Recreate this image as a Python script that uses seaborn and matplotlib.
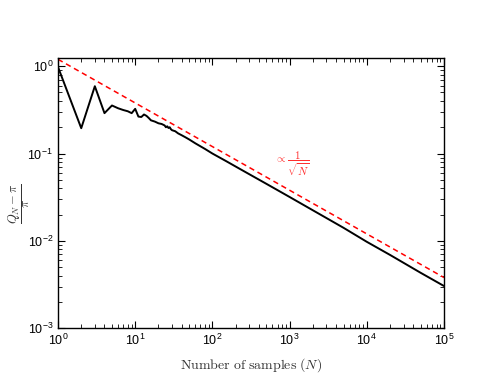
import matplotlib
matplotlib.use("Agg")
import matplotlib.pyplot as plt
import seaborn as sns
import pandas as pd
from matplotlib.ticker import LogLocator, NullFormatter

# Data
n_samples = [1, 2, 3, 4, 5, 6, 7, 8, 9, 10, 11, 12, 13, 14, 15, 16, 18, 20, 22, 24, 25,
             26, 27, 28, 29, 30, 33, 36, 40, 45, 50, 60, 70, 80, 100, 150, 200, 300,
             500, 1000, 2000, 5000, 10000, 20000, 50000, 100000]
rel_error = [0.98, 0.195, 0.59, 0.29, 0.355, 0.33, 0.315, 0.305, 0.29, 0.325, 0.265,
             0.262, 0.28, 0.27, 0.255, 0.24, 0.232, 0.222, 0.218, 0.21, 0.2,
             0.205, 0.196, 0.2, 0.19, 0.185, 0.18, 0.17, 0.162, 0.153, 0.145, 0.131,
             0.121, 0.113, 0.1, 0.082, 0.071, 0.058, 0.045, 0.0318, 0.0224, 0.0141,
             0.00975, 0.0069, 0.0043, 0.00304]
ref_n = [1, 100000]
ref_val = [1.2, 0.0038]

x_label = r"$\mathrm{Number\ of\ samples}\ (N)$"
y_label = r"$\dfrac{Q_N-\pi}{\pi}$"
annot = r"$\propto\dfrac{1}{\sqrt{N}}$"

sns.set_style("ticks")
plt.rcParams["font.family"] = ["Liberation Sans", "DejaVu Sans"]
plt.rcParams["mathtext.fontset"] = "cm"

fig = plt.figure(figsize=(5, 3.87), dpi=100)
ax = fig.add_axes([0.116, 0.152, 0.772, 0.698])

df = pd.DataFrame({"N": n_samples, "err": rel_error})
dref = pd.DataFrame({"N": ref_n, "val": ref_val})
sns.lineplot(data=df, x="N", y="err", color="black", lw=1.4, ax=ax, estimator=None, sort=False)
sns.lineplot(data=dref, x="N", y="val", color="red", lw=1.1, ax=ax, estimator=None,
             sort=False, dashes=False, linestyle=(0, (3.5, 2.5)))

ax.set_xscale("log")
ax.set_yscale("log")
ax.set_xlim(1, 1e5)
ax.set_ylim(1e-3, 1.24)

ax.xaxis.set_major_locator(LogLocator(base=10, numticks=10))
ax.yaxis.set_major_locator(LogLocator(base=10, numticks=10))
ax.xaxis.set_minor_locator(LogLocator(base=10, subs=range(2, 10), numticks=20))
ax.yaxis.set_minor_locator(LogLocator(base=10, subs=range(2, 10), numticks=20))
ax.xaxis.set_minor_formatter(NullFormatter())
ax.yaxis.set_minor_formatter(NullFormatter())

ax.tick_params(which="both", direction="in", top=True, right=True, labelsize=9, colors="black")
ax.tick_params(which="major", length=5, width=0.8)
ax.tick_params(which="minor", length=3, width=0.6)
for s in ax.spines.values():
    s.set_linewidth(1.0)
    s.set_color("black")

ax.set_xlabel(x_label, fontsize=10, color="#333333")
ax.xaxis.set_label_coords(0.5, -0.105)
ax.set_ylabel(y_label, fontsize=9, color="#333333")
ax.yaxis.set_label_coords(-0.067, 0.46)

ax.text(640, 0.077, annot, color="#ff3030", fontsize=8, ha="left", va="center")

fig.savefig("out.png", dpi=100)
